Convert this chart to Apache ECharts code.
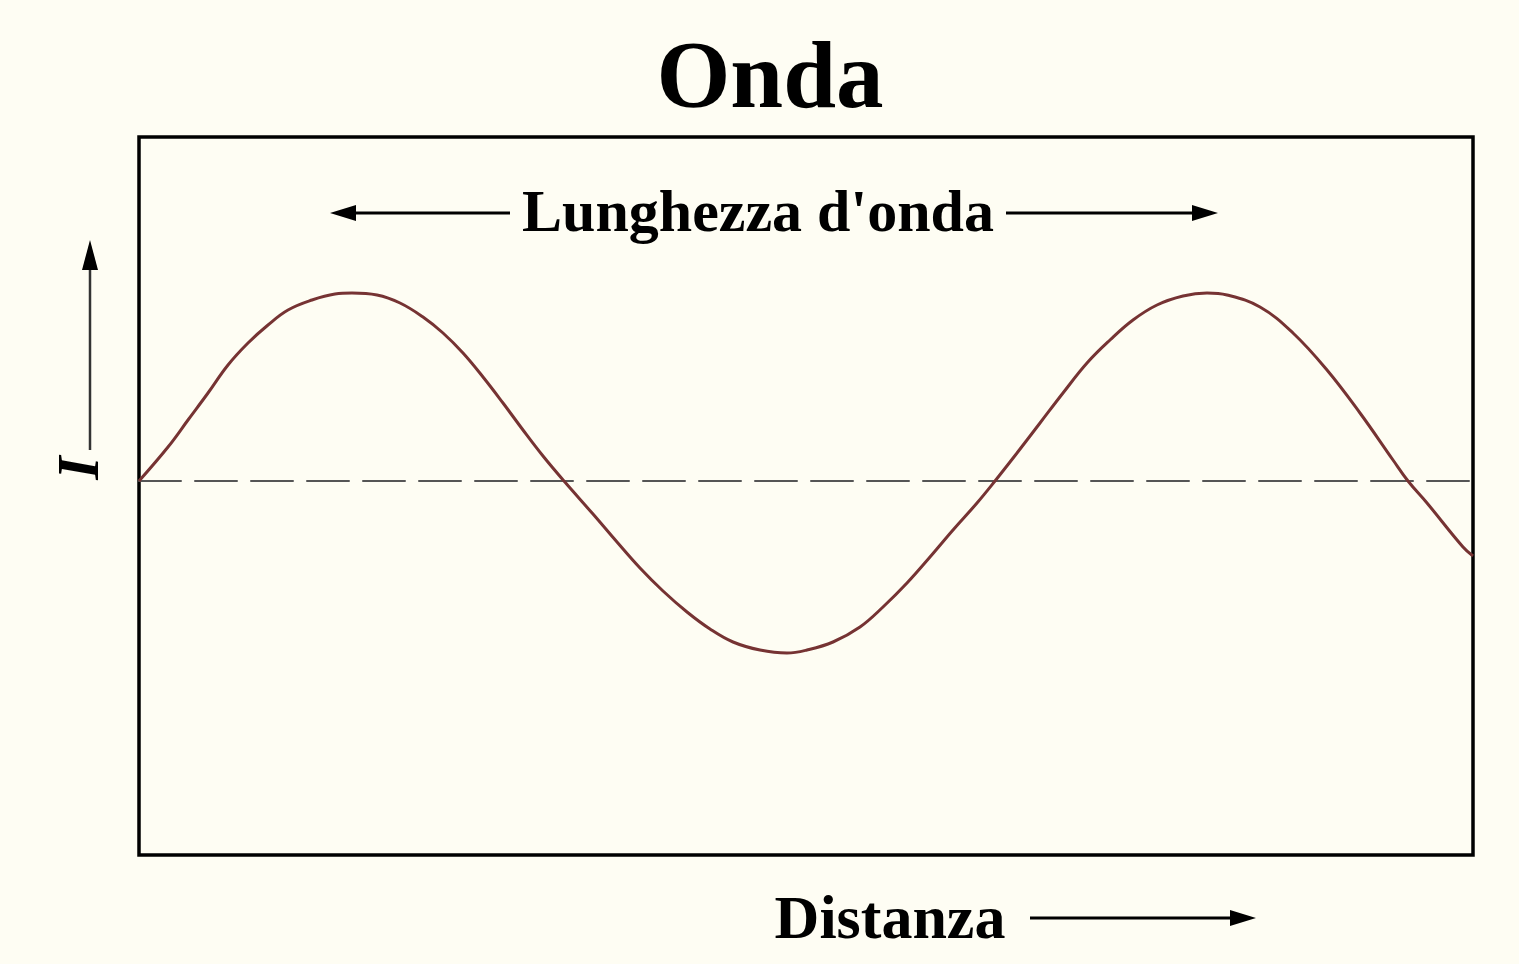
<!DOCTYPE html>
<html>
<head>
<meta charset="utf-8">
<script src="https://cdn.jsdelivr.net/npm/echarts@6/dist/echarts.min.js"></script>
<style>
  html, body { margin: 0; padding: 0; background: #fefdf3; }
  #onda { width: 1519px; height: 964px; }
</style>
</head>
<body>
<div id="onda"></div>
<script>
// distanza (x) e intensità (y)
var distanza = [0, 0.29, 0.49, 0.69, 0.89, 1.09, 1.29, 1.49, 1.73, 1.96, 2.13,
  2.38, 2.61, 2.84, 3.04, 3.24, 3.44, 3.64, 3.84, 4.04, 4.25,
  4.54, 4.78, 5.01, 5.24, 5.48, 5.71, 5.94, 6.21, 6.48,
  6.68, 6.94, 7.21, 7.44, 7.68, 7.91, 8.14, 8.38, 8.56,
  8.78, 9.01, 9.24, 9.48, 9.71, 9.94, 10.18, 10.44, 10.68,
  10.88, 11.21, 11.54, 11.88, 12.21, 12.54, 12.69, 12.88, 13.24, 13.34];
var intensita = [0, 0.34, 0.61, 0.88, 1.16, 1.38, 1.56, 1.71, 1.81, 1.87, 1.88,
  1.86, 1.78, 1.64, 1.48, 1.28, 1.04, 0.78, 0.51, 0.25, 0,
  -0.33, -0.61, -0.87, -1.10, -1.31, -1.48, -1.61, -1.69, -1.72,
  -1.69, -1.61, -1.46, -1.26, -1.02, -0.76, -0.49, -0.22, 0,
  0.28, 0.58, 0.88, 1.18, 1.41, 1.61, 1.76, 1.85, 1.88,
  1.86, 1.74, 1.48, 1.11, 0.68, 0.21, 0, -0.22, -0.66, -0.75];

var titolo = 'Onda';
var etichettaOnda = "Lunghezza d'onda";
var etichettaX = 'Distanza';
var etichettaY = 'I';

function echarts_onda() {
  var myChart = echarts.init(document.getElementById('onda'));
  var punti = distanza.map(function (d, i) { return [d, intensita[i]]; });
  var serif = '"Liberation Serif", "DejaVu Serif", serif';

  myChart.setOption({
    backgroundColor: '#fefdf3',
    animation: false,
    grid: {
      left: 139, top: 137, width: 1334, height: 718,
      show: true, borderColor: '#000', borderWidth: 3.5, backgroundColor: 'transparent'
    },
    xAxis: {
      type: 'value', min: 0, max: 13.34,
      axisLine: { show: true, onZero: true, lineStyle: { color: '#555', width: 2, type: [42, 14] } },
      axisTick: { show: false }, axisLabel: { show: false }, splitLine: { show: false }
    },
    yAxis: {
      type: 'value', min: -3.74, max: 3.44,
      axisLine: { show: false }, axisTick: { show: false },
      axisLabel: { show: false }, splitLine: { show: false }
    },
    series: [{
      type: 'line',
      data: punti,
      smooth: 0.4,
      showSymbol: false,
      lineStyle: { color: '#763333', width: 3 },
      z: 3
    }],
    graphic: [
      // titolo
      { type: 'text', x: 770, y: 82, style: { text: titolo, font: 'bold 95px ' + serif, fill: '#000', align: 'center', verticalAlign: 'middle' } },
      // lunghezza d'onda
      { type: 'text', x: 758, y: 215, style: { text: etichettaOnda, font: 'bold 60px ' + serif, fill: '#000', align: 'center', verticalAlign: 'middle' } },
      { type: 'line', shape: { x1: 352, y1: 213, x2: 510, y2: 213 }, style: { stroke: '#000', lineWidth: 3 } },
      { type: 'polygon', shape: { points: [[330, 213], [356, 205], [356, 221]] }, style: { fill: '#000' } },
      { type: 'line', shape: { x1: 1006, y1: 213, x2: 1196, y2: 213 }, style: { stroke: '#000', lineWidth: 3 } },
      { type: 'polygon', shape: { points: [[1218, 213], [1192, 205], [1192, 221]] }, style: { fill: '#000' } },
      // distanza
      { type: 'text', x: 890, y: 922, style: { text: etichettaX, font: 'bold 62px ' + serif, fill: '#000', align: 'center', verticalAlign: 'middle' } },
      { type: 'line', shape: { x1: 1030, y1: 918, x2: 1232, y2: 918 }, style: { stroke: '#000', lineWidth: 3 } },
      { type: 'polygon', shape: { points: [[1256, 918], [1230, 910], [1230, 926]] }, style: { fill: '#000' } },
      // intensità
      { type: 'line', shape: { x1: 90, y1: 268, x2: 90, y2: 450 }, style: { stroke: '#333', lineWidth: 2.5 } },
      { type: 'polygon', shape: { points: [[90, 240], [82, 270], [98, 270]] }, style: { fill: '#000' } },
      { type: 'text', x: 82, y: 468, rotation: Math.PI / 2, style: { text: etichettaY, font: 'italic bold 60px ' + serif, fill: '#000', align: 'center', verticalAlign: 'middle' } }
    ]
  });
}

window.onload = function () {
  echarts_onda();
};
</script>
</body>
</html>
